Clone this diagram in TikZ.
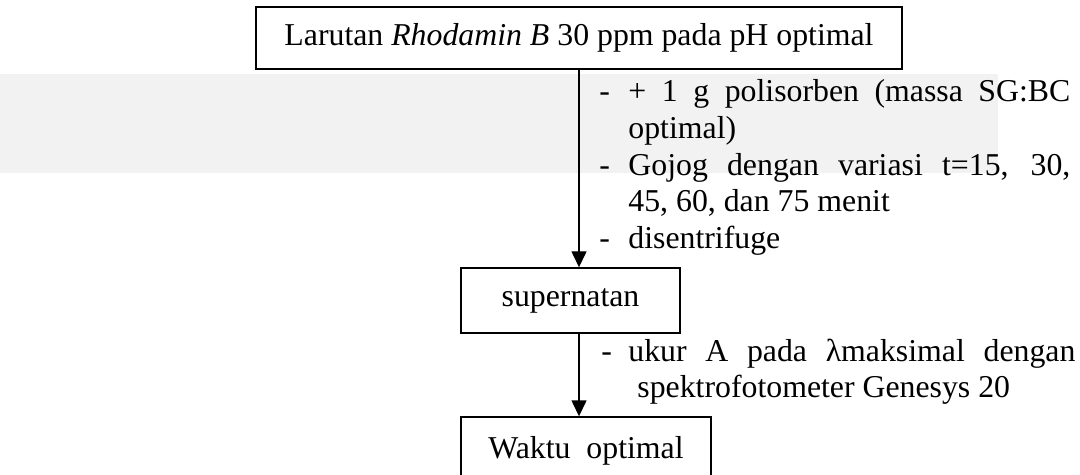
\documentclass[tikz,border=0pt]{standalone}
\usepackage{fontspec}
\setmainfont{Liberation Serif}
\usetikzlibrary{arrows.meta}
\newcommand\jline[2]{\makebox[#1][s]{#2}}
\definecolor{wmgray}{gray}{0.95}
\tikzset{
  box/.style={draw, fill=white, line width=0.7pt, inner sep=0pt, align=center},
  flow/.style={-{Triangle[length=8pt,width=7.5pt]}, line width=0.7pt},
  dashmark/.style={anchor=base west, inner sep=0pt},
  itemline/.style={anchor=base west, inner sep=0pt},
}
\begin{document}
\begin{tikzpicture}[x=0.5pt,y=-0.5pt,font=\fontsize{15.9}{18.3}\selectfont]
\useasboundingbox (0,0) rectangle (1080,475);
\clip (0,0) rectangle (1080,475);
% faint watermark band
\fill[wmgray] (0,74) rectangle (998,173);
% boxes
\node[box, minimum width=323pt, minimum height=31pt] (top) at (579,38)
  {Larutan \textit{Rhodamin B} 30 ppm pada pH optimal};
\node[box, minimum width=109.5pt, minimum height=32.5pt] (sup) at (570.5,300.5) {supernatan};
\node[box, minimum width=125pt, minimum height=33.5pt] (wak) at (586,450.5) {Waktu~~optimal};
% connectors
\draw[flow] (top.south) -- (top.south |- sup.north);
\draw[flow] (top.south |- sup.south) -- (top.south |- wak.north);
% first list
\node[dashmark] (d1) at (599,102) {-};
\node[itemline] (l1) at (628,102) {\jline{221pt}{+ 1 g polisorben (massa SG:BC}};
\node[itemline] (l2) at (628,138.6) {optimal)};
\node[dashmark] (d2) at (599,175.2) {-};
\node[itemline] (l3) at (628,175.2) {\jline{221pt}{Gojog dengan variasi t=15, 30,}};
\node[itemline] (l4) at (628,211.8) {45, 60, dan 75 menit};
\node[dashmark] (d3) at (599,248.4) {-};
\node[itemline] (l5) at (628,248.4) {disentrifuge};
% second list
\node[dashmark] (d4) at (601,361) {-};
\node[itemline] (m1) at (628,361) {\jline{223.5pt}{ukur A pada λmaksimal dengan}};
\node[itemline] (m2) at (637,397) {spektrofotometer Genesys 20};
\end{tikzpicture}
\end{document}
